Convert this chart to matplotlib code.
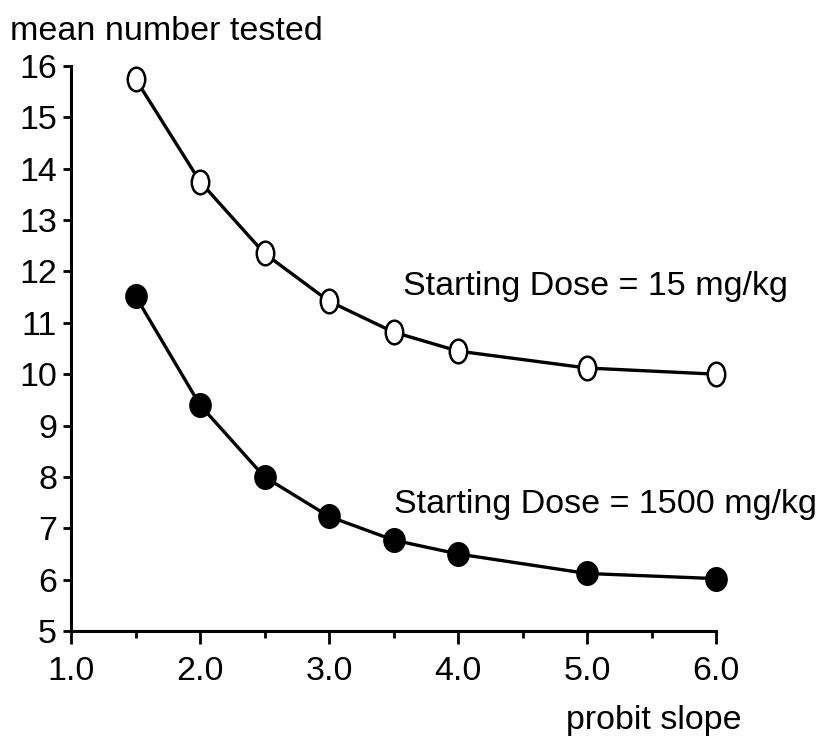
import matplotlib
matplotlib.use("Agg")
import matplotlib.pyplot as plt
from matplotlib.path import Path
from matplotlib.transforms import Affine2D
from matplotlib.ticker import MultipleLocator

plt.rcParams["font.family"] = ["Liberation Sans", "DejaVu Sans"]

# probit slope values
slope = [1.5, 2.0, 2.5, 3.0, 3.5, 4.0, 5.0, 6.0]
# mean number tested, starting dose 15 mg/kg (open circles)
dose_15 = [15.75, 13.75, 12.35, 11.42, 10.82, 10.45, 10.12, 10.0]
# mean number tested, starting dose 1500 mg/kg (filled circles)
dose_1500 = [11.52, 9.4, 8.0, 7.23, 6.77, 6.5, 6.12, 6.02]

FS = 24.5
W, H = 819, 736

# slightly tall ellipses, like the original markers
circ = Path.unit_circle()
open_mk = circ.transformed(Affine2D().scale(0.74, 1.0))
fill_mk = circ.transformed(Affine2D().scale(0.9, 1.0))

fig = plt.figure(figsize=(W / 100, H / 100), dpi=100)
ax = fig.add_axes([71 / W, 1 - 631 / H, (716 - 71) / W, (631 - 66) / H])

ax.plot(slope, dose_15, "-", color="black", linewidth=2.4, marker=open_mk,
        markersize=17, markerfacecolor="white", markeredgecolor="black",
        markeredgewidth=1.8, clip_on=False)
ax.plot(slope, dose_1500, "-", color="black", linewidth=2.4, marker=fill_mk,
        markersize=17, markerfacecolor="black", markeredgecolor="black",
        clip_on=False)

ax.set_xlim(1.0, 6.0)
ax.set_ylim(5, 16)
ax.xaxis.set_major_locator(MultipleLocator(1.0))
ax.xaxis.set_minor_locator(MultipleLocator(0.5))
ax.yaxis.set_major_locator(MultipleLocator(1))
ax.set_xticklabels([f"{v:.1f}" for v in ax.get_xticks()])

for s in ["top", "right"]:
    ax.spines[s].set_visible(False)
for s in ["left", "bottom"]:
    ax.spines[s].set_linewidth(2.2)

ax.tick_params(axis="y", which="major", direction="out", length=6, width=2,
               labelsize=FS, pad=4)
ax.tick_params(axis="x", which="major", direction="out", length=9, width=2,
               labelsize=FS, pad=9)
ax.tick_params(axis="x", which="minor", direction="out", length=5, width=2)

fig.text(10 / W, 1 - 40 / H, "mean number tested", fontsize=FS,
         ha="left", va="baseline")
fig.text(742 / W, 1 - 729 / H, "probit slope", fontsize=FS,
         ha="right", va="baseline")
fig.text(788 / W, 1 - 295 / H, "Starting Dose = 15 mg/kg", fontsize=FS,
         ha="right", va="baseline")
fig.text(817 / W, 1 - 513 / H, "Starting Dose = 1500 mg/kg", fontsize=FS,
         ha="right", va="baseline")

fig.savefig("out.png", dpi=100)
